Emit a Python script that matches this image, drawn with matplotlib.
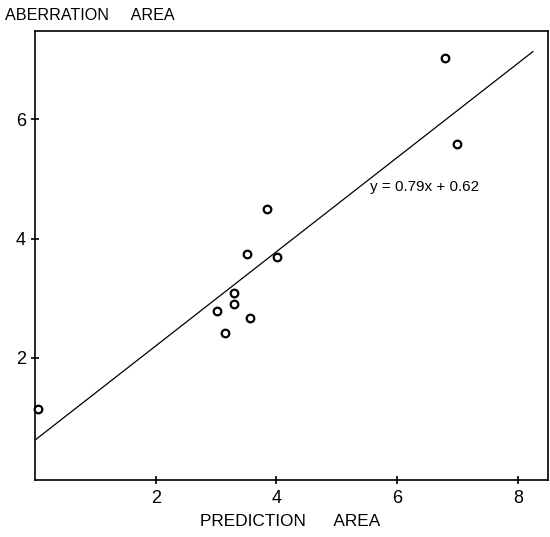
import numpy as np
import matplotlib
matplotlib.use('Agg')
import matplotlib.pyplot as plt

# prediction area vs aberration area
pred_area = [0.05, 3.02, 3.14, 3.30, 3.30, 3.57, 3.52, 4.01, 3.85, 6.79, 6.99]
aberr_area = [1.15, 2.79, 2.42, 3.08, 2.91, 2.67, 3.75, 3.70, 4.49, 7.03, 5.58]
slope, intercept = 0.79, 0.62
fit_x = [0.0, 8.25]
x_ticks = [2, 4, 6, 8]
y_ticks = [2, 4, 6]

plt.rcParams['font.family'] = ['Liberation Sans', 'DejaVu Sans']

fig = plt.figure(figsize=(5.5, 5.37), dpi=100)
ax = fig.add_axes([0.0636, 0.106, 0.9328, 0.836])

fx = np.array(fit_x)
ax.plot(fx, slope * fx + intercept, color='k', linewidth=0.9)
ax.scatter(pred_area, aberr_area, s=30, facecolors='white', edgecolors='k',
           linewidths=1.6, zorder=3, clip_on=False)
ax.text(5.55, 4.86, 'y = 0.79x + 0.62', fontsize=11, va='center', ha='left')

ax.set_xlim(0, 8.5)
ax.set_ylim(-0.05, 7.48)
ax.set_xticks(x_ticks)
ax.set_yticks(y_ticks)
ax.tick_params(direction='inout', length=6, width=1.2, labelsize=13)
ax.tick_params(axis='x', pad=4)
for sp in ax.spines.values():
    sp.set_linewidth(1.2)

fig.text(5 / 550, 1 - 15 / 537, 'ABERRATION     AREA', fontsize=11.6, va='center', ha='left')
fig.text(200 / 550, 1 - 522 / 537, 'PREDICTION      AREA', fontsize=12.4, va='center', ha='left')

fig.savefig('out.png', dpi=100)
